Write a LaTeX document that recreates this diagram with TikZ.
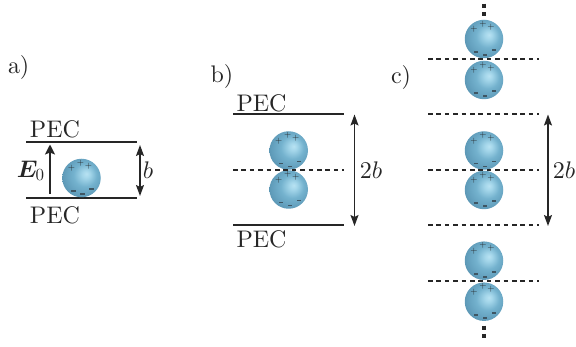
\documentclass[tikz,border=0pt]{standalone}
\usepackage{amsmath}
\usetikzlibrary{arrows.meta}
\definecolor{spA}{HTML}{B8E2F2}
\definecolor{spB}{HTML}{A4D6EA}
\definecolor{spC}{HTML}{74B2CE}
\definecolor{spD}{HTML}{5F9BB9}
\definecolor{spE}{HTML}{4F86A3}
\definecolor{negc}{HTML}{3F5663}
\definecolor{inkc}{HTML}{262626}
\pgfdeclareradialshading{sph}{\pgfpoint{6.5bp}{5.5bp}}{
  color(0bp)=(spA); color(5bp)=(spB); color(15bp)=(spC); color(27bp)=(spD); color(35bp)=(spE); color(50bp)=(spE)}
\font\rmbig=cmr10 at 24pt
\font\mibig=cmmi10 at 24pt
\font\bfbig=cmmib10 at 24pt
\font\rmsub=cmr10 at 17pt
\tikzset{
  x=1pt,y=-1pt,
  ball/.style={circle,minimum size=38.5pt,inner sep=0pt,shading=sph},
  chg/.style={font=\fontsize{9}{9}\selectfont,text=inkc,inner sep=0pt},
  neg/.style={fill=negc,rectangle,draw=none,minimum width=4.2pt,minimum height=1.7pt,inner sep=0pt},
  wall/.style={line width=1.9pt,draw=inkc},
  mid/.style={line width=1.9pt,draw=inkc,dash pattern=on 4.6pt off 3.8pt},
  dim/.style={line width=1.5pt,draw=inkc,{Stealth[length=11pt,width=8pt,inset=2pt]}-{Stealth[length=11pt,width=8pt,inset=2pt]}},
  up/.style={line width=1.8pt,draw=inkc,-{Stealth[length=10pt,width=10pt,inset=2pt]}},
  dots/.style={line width=4.2pt,draw=inkc,dash pattern=on 4.2pt off 4.2pt},
  lab/.style={font=\rmbig,inner sep=0pt,text=inkc},
  milab/.style={font=\mibig,inner sep=0pt,text=inkc},
}
\newcommand{\myball}[3]{%
  \node[ball] (#1) at (#2,#3) {};
  \node[chg] (#1p1) at ([shift={(-10,-9.5)}]#1) {+};
  \node[chg] (#1p2) at ([shift={(-1,-15)}]#1) {+};
  \node[chg] (#1p3) at ([shift={(7,-12)}]#1) {+};
  \node[neg] (#1m1) at ([shift={(-8,13)}]#1) {};
  \node[neg] (#1m2) at ([shift={(1,16)}]#1) {};
  \node[neg] (#1m3) at ([shift={(10,11)}]#1) {};
}
\begin{document}
\begin{tikzpicture}
\useasboundingbox (0,0) rectangle (576,347);
% a
\node[lab] (la) at (18.5,68) {a)};
\node[lab] (pa1) at (55,129.5) {PEC};
\node[lab] (pa2) at (55,215) {PEC};
\coordinate (a1) at (26,142.3); \coordinate (a2) at (137,142.3);
\coordinate (a3) at (26,198.3); \coordinate (a4) at (137,198.3);
\draw[wall] (a1) -- (a2);
\draw[wall] (a3) -- (a4);
\myball{ba}{81.5}{178}
\coordinate (ea) at (50,194); \coordinate (eb) at (50,144.5);
\draw[up] (ea) -- (eb);
\node[lab] (e0) at (30.5,171) {{\bfbig E}\kern-0.5pt\lower3.5pt\hbox{\rmsub 0}};
\coordinate (da) at (140,145); \coordinate (db) at (140,196);
\draw[dim] (da) -- (db);
\node[milab] (lb) at (148,170) {b};
% b
\node[lab] (lbb) at (222,77) {b)};
\node[lab] (pb1) at (261.5,103) {PEC};
\node[lab] (pb2) at (261.5,239) {PEC};
\coordinate (b1) at (233,114.2); \coordinate (b2) at (343.5,114.2);
\coordinate (b3) at (233,225); \coordinate (b4) at (343.5,225);
\coordinate (b5) at (233,170.2); \coordinate (b6) at (343.5,170.2);
\draw[wall] (b1) -- (b2);
\draw[wall] (b3) -- (b4);
\myball{bb}{288.7}{150.5}
\myball{bc}{288.7}{189.5}
\draw[mid] (b5) -- (b6);
\coordinate (dc) at (354.5,114.5); \coordinate (dd) at (354.5,226);
\draw[dim] (dc) -- (dd);
\node[lab] (lc) at (371,170) {2{\mibig b}};
% c
\node[lab] (lcc) at (401,78) {c)};
\myball{ca}{484}{39}
\myball{cb}{484}{80}
\myball{cc}{484}{150.5}
\myball{cd}{484}{190}
\myball{ce}{484}{260.7}
\myball{cf}{484}{301.7}
\foreach \n/\yy in {1/59.2,2/114.2,3/170.2,4/225,5/281}{
  \coordinate (cl\n) at (428,\yy); \coordinate (cr\n) at (539,\yy);
  \draw[mid] (cl\n) -- (cr\n);
}
\coordinate (de) at (548,114.5); \coordinate (df) at (548,226);
\draw[dim] (de) -- (df);
\node[lab] (ld) at (564,170) {2{\mibig b}};
\coordinate (t1) at (484,3.6); \coordinate (t2) at (484,16);
\draw[dots] (t1) -- (t2);
\coordinate (t3) at (484,325.6); \coordinate (t4) at (484,338);
\draw[dots] (t3) -- (t4);
\end{tikzpicture}
\end{document}
